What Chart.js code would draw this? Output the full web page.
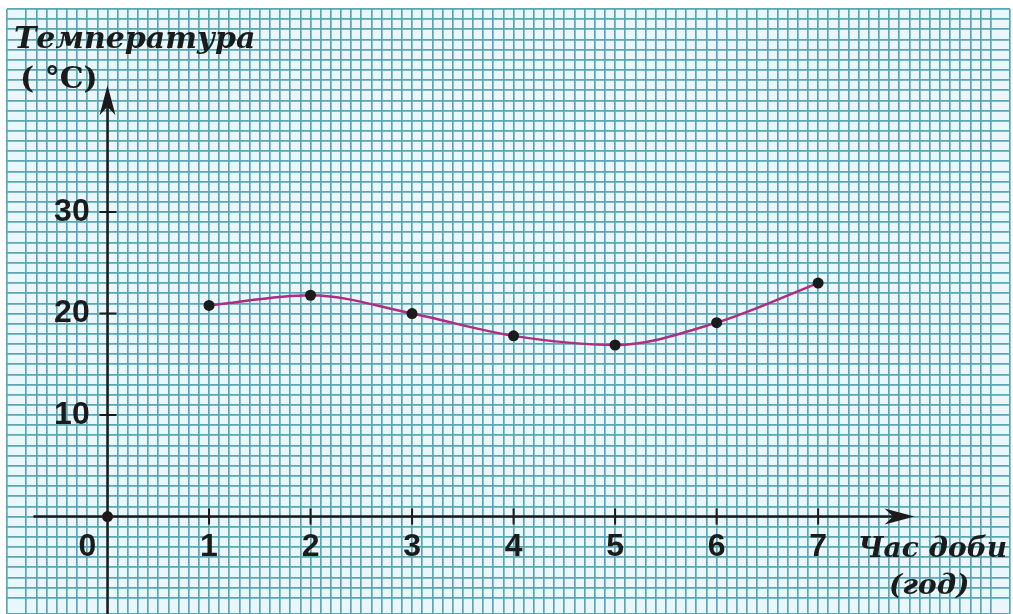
<!DOCTYPE html>
<html>
<head>
<meta charset="utf-8">
<script src="https://cdn.jsdelivr.net/npm/chart.js@4.4.0/dist/chart.umd.min.js"></script>
<style>
  html, body { margin: 0; padding: 0; background: #fff; }
  #wrap { width: 1013px; height: 614px; }
</style>
</head>
<body>
<div id="wrap"><canvas id="chart"></canvas></div>
<script>
// ===== data =====
const hours = [1, 2, 3, 4, 5, 6, 7];
const temps = [20.8, 21.8, 20, 17.8, 16.9, 19.1, 23];
const xTickLabels = [1, 2, 3, 4, 5, 6, 7];
const yTickLabels = [10, 20, 30];
const yTitle = ['Температура', '( °C)'];
const xTitle = ['Час доби', '(год)'];

const INK = '#1b1b1b';
const serifBI = (s) => 'italic bold ' + s + 'px "DejaVu Serif", serif';

// graph paper background
const paperPlugin = {
  id: 'paper',
  beforeDraw(chart) {
    const { ctx, chartArea: a } = chart;
    ctx.save();
    ctx.fillStyle = '#e9f7fb';
    ctx.fillRect(a.left, a.top, a.right - a.left, a.bottom - a.top);
    ctx.restore();
  }
};

function arrowHead(ctx, tx, ty, dx, dy, len, half) {
  const px = -dy, py = dx;
  ctx.beginPath();
  ctx.moveTo(tx, ty);
  ctx.lineTo(tx - dx * len + px * half, ty - dy * len + py * half);
  ctx.lineTo(tx - dx * len * 0.72, ty - dy * len * 0.72);
  ctx.lineTo(tx - dx * len - px * half, ty - dy * len - py * half);
  ctx.closePath();
  ctx.fill();
}

// axis lines, arrows and tick marks
const axesPlugin = {
  id: 'axesArrows',
  beforeDatasetsDraw(chart) {
    const { ctx, scales: { x, y } } = chart;
    const x0 = x.getPixelForValue(0), y0 = y.getPixelForValue(0);
    const xEnd = x.getPixelForValue(7.95), yEnd = y.getPixelForValue(42.5);
    ctx.save();
    ctx.strokeStyle = INK;
    ctx.fillStyle = INK;
    ctx.lineWidth = 2.5;
    ctx.beginPath();
    ctx.moveTo(x.getPixelForValue(-0.73), y0);
    ctx.lineTo(xEnd - 10, y0);
    ctx.moveTo(x0, y.bottom);
    ctx.lineTo(x0, yEnd + 10);
    ctx.stroke();
    arrowHead(ctx, xEnd, y0, 1, 0, 30, 8);
    arrowHead(ctx, x0, yEnd, 0, -1, 30, 8);
    ctx.lineWidth = 2;
    ctx.beginPath();
    xTickLabels.forEach(v => {
      const p = x.getPixelForValue(v);
      ctx.moveTo(p, y0 - 8);
      ctx.lineTo(p, y0 + 8);
    });
    yTickLabels.forEach(v => {
      const p = y.getPixelForValue(v);
      ctx.moveTo(x0 - 8, p);
      ctx.lineTo(x0 + 9, p);
    });
    ctx.stroke();
    ctx.restore();
  }
};

// axis titles and origin label
const textPlugin = {
  id: 'axisText',
  afterDraw(chart) {
    const { ctx, scales: { x, y } } = chart;
    const x0 = x.getPixelForValue(0), y0 = y.getPixelForValue(0);
    ctx.save();
    ctx.fillStyle = INK;
    ctx.textBaseline = 'alphabetic';
    ctx.textAlign = 'left';
    ctx.font = serifBI(30);
    ctx.fillText(yTitle[0], 14, 48);
    ctx.font = 'bold 30px "DejaVu Serif", serif';
    ctx.fillText(yTitle[1], 20, 88);

    ctx.font = serifBI(28);
    ctx.fillText(xTitle[0], 858, 557);
    ctx.fillText(xTitle[1], 889, 594);

    ctx.font = 'bold 32px "Liberation Sans", Arial, sans-serif';
    ctx.textAlign = 'center';
    ctx.textBaseline = 'middle';
    ctx.fillText('0', x0 - 20, y0 + 31);
    ctx.restore();
  }
};

// the axes sit inside the plot, so they should not shrink it
const noPad = (s) => {
  s.paddingTop = 0;
  s.paddingBottom = 0;
  s.paddingLeft = 0;
  s.paddingRight = 0;
};

const tickFont = { family: '"Liberation Sans", Arial, sans-serif', size: 32, weight: 'bold' };
const gridStyle = { color: '#5aa6b5', lineWidth: 1.7, drawTicks: false };

new Chart(document.getElementById('chart'), {
  type: 'line',
  data: {
    datasets: [
      {
        data: hours.map((h, i) => ({ x: h, y: temps[i] })),
        borderColor: '#b02c84',
        borderWidth: 2.5,
        cubicInterpolationMode: 'monotone',
        pointRadius: 5.5,
        pointBackgroundColor: INK,
        pointBorderWidth: 0
      },
      {
        data: [{ x: 0, y: 0 }],
        showLine: false,
        pointRadius: 5.5,
        pointBackgroundColor: INK,
        pointBorderWidth: 0
      }
    ]
  },
  options: {
    responsive: true,
    maintainAspectRatio: false,
    animation: false,
    layout: { autoPadding: false, padding: { left: 7, top: 9, right: 3, bottom: 0 } },
    scales: {
      x: {
        type: 'linear',
        min: -0.99,
        max: 8.89,
        position: { y: 0 },
        afterFit: noPad,
        grid: gridStyle,
        border: { display: false },
        ticks: {
          stepSize: 0.1,
          autoSkip: false,
          maxRotation: 0,
          padding: 11,
          color: INK,
          font: tickFont,
          callback: (v) => {
            const r = Math.round(v * 10) / 10;
            return xTickLabels.includes(r) ? String(r) : '';
          }
        }
      },
      y: {
        type: 'linear',
        min: -9.6,
        max: 50,
        position: { x: 0 },
        afterFit: noPad,
        grid: gridStyle,
        border: { display: false },
        ticks: {
          stepSize: 1,
          autoSkip: false,
          color: INK,
          font: tickFont,
          // figure space keeps the label clear of the axis
          callback: (v) => yTickLabels.includes(Math.round(v * 10) / 10) ? String(v) + '\u2007' : ''
        }
      }
    },
    plugins: {
      legend: { display: false },
      tooltip: { enabled: false }
    }
  },
  plugins: [paperPlugin, axesPlugin, textPlugin]
});
</script>
</body>
</html>
